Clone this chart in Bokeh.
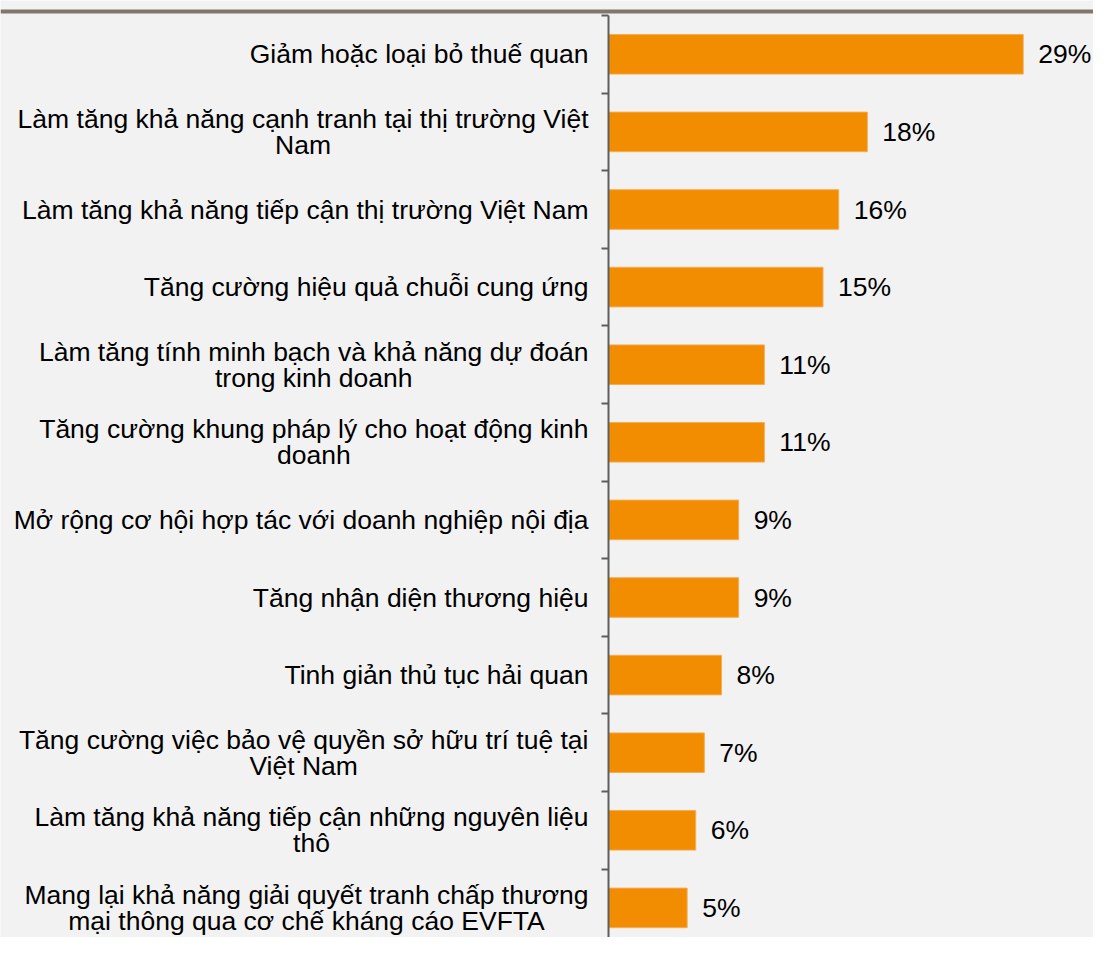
from bokeh.plotting import figure
from bokeh.models import (Range1d, LinearAxis, FixedTicker, CustomJSTickFormatter,
                          ColumnDataSource)
from bokeh.core.properties import value
from bokeh.embed import file_html
from bokeh.resources import INLINE

# ---------------- data ----------------
categories = [
    "Giảm hoặc loại bỏ thuế quan",
    "Làm tăng khả năng cạnh tranh tại thị trường Việt\nNam",
    "Làm tăng khả năng tiếp cận thị trường Việt Nam",
    "Tăng cường hiệu quả chuỗi cung ứng",
    "Làm tăng tính minh bạch và khả năng dự đoán\ntrong kinh doanh",
    "Tăng cường khung pháp lý cho hoạt động kinh\ndoanh",
    "Mở rộng cơ hội hợp tác với doanh nghiệp nội địa",
    "Tăng nhận diện thương hiệu",
    "Tinh giản thủ tục hải quan",
    "Tăng cường việc bảo vệ quyền sở hữu trí tuệ tại\nViệt Nam",
    "Làm tăng khả năng tiếp cận những nguyên liệu\nthô",
    "Mang lại khả năng giải quyết tranh chấp thương\nmại thông qua cơ chế kháng cáo EVFTA",
]
values = [29.0, 18.1, 16.1, 15.0, 10.9, 10.9, 9.1, 9.1, 7.9, 6.7, 6.1, 5.5]
value_labels = ["29%", "18%", "16%", "15%", "11%", "11%", "9%", "9%", "8%", "7%", "6%", "5%"]

# ---------------- layout ----------------
W, H = 1093, 937
AXIS_PX = 608        # pixel position of the value axis inside the figure
PX_PER_PCT = 14.3
TOP_PX = 15          # pixel position of the first category boundary
ROW_PX = 77.6
RULE_TOP_PX = 9      # top rule pixel rows
RULE_BOT_PX = 13

BG = "#F2F2F2"
BAR = "#F28C00"
RULE = "#7F776B"
FONT = value("Liberation Sans")
FS = "26.5px"

n = len(categories)
idx = list(range(n))

src = ColumnDataSource(dict(
    y=idx,
    cat=categories,
    val=values,
    vlab=value_labels,
    zero=[0] * n,
))

x0 = -AXIS_PX / PX_PER_PCT
x1 = (W - AXIS_PX) / PX_PER_PCT
x_range = Range1d(x0, x1)
y_range = Range1d(start=-0.5 + (H - TOP_PX) / ROW_PX, end=-0.5 - TOP_PX / ROW_PX)


def px_to_y(py):
    return -0.5 - (TOP_PX - py) / ROW_PX


p = figure(width=W, height=H, x_range=x_range, y_range=y_range,
           x_axis_type=None, y_axis_type=None, title=None,
           toolbar_location=None, output_backend="svg",
           min_border=0, min_border_left=0, min_border_right=0,
           min_border_top=0, min_border_bottom=0,
           background_fill_color=BG, border_fill_color=BG,
           outline_line_color=None)

# top rule
p.quad(left=[x0], right=[x1], top=[px_to_y(RULE_TOP_PX)], bottom=[px_to_y(RULE_BOT_PX)],
       fill_color=RULE, line_color=None)

# bars
p.hbar(y="y", left=0, right="val", height=0.51, source=src,
       fill_color=BAR, line_color="#F6AC55", line_width=1)

# value labels
p.text(x="val", y="y", text="vlab", source=src, x_offset=15,
       text_align="left", text_baseline="middle",
       text_font=FONT, text_font_size=FS, text_color="#000000")

# category labels (block right-aligned, lines centred)
p.text(x="zero", y="y", text="cat", source=src, x_offset=-20,
       anchor="center_right", text_align="center", text_baseline="middle",
       text_line_height=0.88,
       text_font=FONT, text_font_size=FS, text_color="#000000")

# vertical category axis at x = 0 with ticks at category boundaries
yax = LinearAxis(fixed_location=0,
                 ticker=FixedTicker(ticks=[i - 0.5 for i in range(n + 1)]),
                 formatter=CustomJSTickFormatter(code="return ''"),
                 bounds=(-0.5, n - 0.5),
                 axis_line_color="#5E5E5E", axis_line_width=2,
                 major_tick_line_color="#5E5E5E", major_tick_line_width=2,
                 major_tick_in=0, major_tick_out=7,
                 minor_tick_line_color=None)
p.add_layout(yax, "left")

open("out.html", "w").write(file_html(p, INLINE))
